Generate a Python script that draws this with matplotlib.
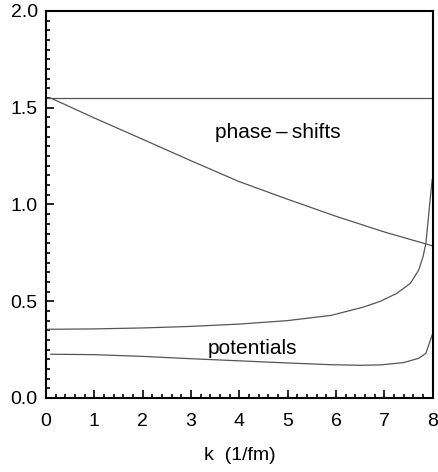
import numpy as np
import matplotlib.pyplot as plt
from matplotlib.ticker import MultipleLocator

plt.rcParams['font.family'] = ['Liberation Sans', 'DejaVu Sans']

# data
phase_k = [0.1, 1, 2, 3, 4, 5, 6, 7, 8]
phase_d = [1.55, 1.447, 1.337, 1.226, 1.118, 1.027, 0.939, 0.858, 0.786]

limit_k = [0.0, 8.0]
limit_d = [1.55, 1.55]

pot1_k = [0, 1, 2, 3, 4, 5, 5.9, 6.57, 6.92, 7.26, 7.54, 7.71, 7.80, 7.86,
          7.90, 7.94, 7.99]
pot1_v = [0.355, 0.357, 0.362, 0.370, 0.382, 0.400, 0.427, 0.470, 0.500,
          0.541, 0.593, 0.661, 0.730, 0.80, 0.903, 1.006, 1.13]

pot2_k = [0.1, 1, 2, 3, 4, 5, 5.9, 6.5, 6.92, 7.4, 7.71, 7.86, 7.99]
pot2_v = [0.226, 0.224, 0.215, 0.203, 0.192, 0.181, 0.172, 0.169, 0.171,
          0.183, 0.205, 0.231, 0.326]

fig = plt.figure(figsize=(4.39, 4.72), dpi=100)
ax = fig.add_axes([0.1048, 0.1568, 0.8808, 0.8199])

lc = '#555555'
ax.plot(limit_k, limit_d, color=lc, lw=0.9)
ax.plot(phase_k, phase_d, color=lc, lw=0.9)
ax.plot(pot1_k, pot1_v, color=lc, lw=0.9)
ax.plot(pot2_k, pot2_v, color=lc, lw=0.9)

ax.text(3.5, 1.37, 'phase\u2009\u2013\u2009shifts', fontsize=15, va='center', ha='left')
ax.text(3.35, 0.258, 'potentials', fontsize=15, va='center', ha='left')

ax.set_xlim(0, 8)
ax.set_ylim(0, 2.0)
ax.xaxis.set_major_locator(MultipleLocator(1))
ax.xaxis.set_minor_locator(MultipleLocator(0.2))
ax.yaxis.set_major_locator(MultipleLocator(0.5))
ax.yaxis.set_minor_locator(MultipleLocator(0.05))
ax.yaxis.set_major_formatter(plt.FormatStrFormatter('%.1f'))
ax.tick_params(which='both', direction='in', top=False, right=False, labelsize=14, width=1.2)
ax.tick_params(which='major', length=6)
ax.tick_params(which='minor', length=3)
ax.tick_params(axis='x', which='major', pad=11)
ax.tick_params(axis='y', which='major', pad=6)
for s in ax.spines.values():
    s.set_linewidth(1.5)

ax.set_xlabel('k  (1/fm)', fontsize=14, labelpad=12)

fig.savefig('out.png', dpi=100)
